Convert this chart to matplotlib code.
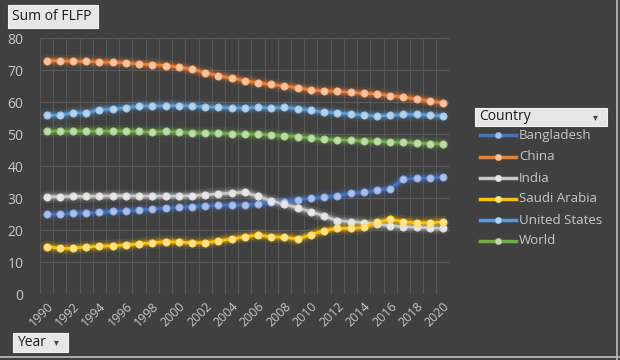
import matplotlib
matplotlib.use("Agg")
import matplotlib.pyplot as plt
import matplotlib.colors as mcolors
from matplotlib.patches import FancyBboxPatch
from matplotlib.lines import Line2D
import numpy as np

plt.rcParams['font.family'] = ['Open Sans', 'DejaVu Sans']

years = list(range(1990, 2021))
bangladesh = [24.9, 24.9, 25.2, 25.3, 25.5, 25.8, 26.0, 26.25, 26.6, 26.8, 27.1, 27.3, 27.5, 27.7, 27.8,
              27.9, 28.1, 28.6, 28.9, 29.5, 29.9, 30.3, 30.7, 31.5, 31.8, 32.4, 32.9, 35.9, 36.15, 36.35, 36.6]
china = [72.9, 72.9, 72.7, 72.7, 72.5, 72.4, 72.2, 71.9, 71.7, 71.4, 70.9, 70.2, 69.2, 68.2, 67.5,
         66.7, 66.0, 65.5, 64.9, 64.5, 63.75, 63.5, 63.3, 63.0, 62.7, 62.5, 62.0, 61.6, 60.9, 60.3, 59.7]
india = [30.4, 30.4, 30.5, 30.5, 30.6, 30.7, 30.7, 30.6, 30.6, 30.6, 30.6, 30.7, 31.0, 31.25, 31.6,
         31.8, 30.5, 29.2, 28.0, 27.0, 25.7, 24.4, 22.9, 22.6, 22.3, 21.8, 21.4, 21.0, 20.9, 20.7, 20.5]
saudi = [14.8, 14.3, 14.3, 14.7, 14.9, 15.1, 15.3, 15.7, 16.0, 16.35, 16.25, 16.0, 16.0, 16.6, 17.2,
         17.9, 18.4, 17.9, 17.7, 17.2, 18.5, 19.8, 20.5, 20.5, 20.8, 22.4, 23.3, 22.6, 22.2, 22.3, 22.5]
usa = [56.0, 55.8, 56.6, 56.6, 57.6, 57.8, 58.2, 58.75, 58.75, 58.85, 58.85, 58.75, 58.5, 58.3, 58.2,
       58.1, 58.3, 58.1, 58.3, 57.9, 57.4, 56.8, 56.7, 56.2, 55.9, 55.6, 55.8, 56.1, 56.1, 55.9, 55.6]
world = [50.9, 50.9, 50.9, 50.9, 50.9, 50.9, 50.9, 50.8, 50.6, 50.8, 50.6, 50.4, 50.3, 50.3, 50.1,
         50.0, 49.9, 49.7, 49.4, 49.2, 48.75, 48.3, 48.2, 48.0, 47.8, 47.7, 47.5, 47.4, 47.2, 47.0, 46.9]

series_names = ["Bangladesh", "China", "India", "Saudi Arabia", "United States", "World"]
series_values = [bangladesh, china, india, saudi, usa, world]
series_colors = ["#4472C4", "#ED7D31", "#C8C8C8", "#FFC000", "#5B9BD5", "#70AD47"]
yticks = [0, 10, 20, 30, 40, 50, 60, 70, 80]
xtick_labels = [str(y) for y in years[::2]]

BG = "#404040"
TXT = "#C8C8C8"

fig = plt.figure(figsize=(6.2, 3.6), dpi=100, facecolor=BG)
ax = fig.add_axes([40 / 620, 1 - 294 / 360, (449.6 - 40) / 620, (294 - 38) / 360])
ax.set_facecolor(BG)


def lighten(c, f):
    r, g, b = mcolors.to_rgb(c)
    return (r + (1 - r) * f, g + (1 - g) * f, b + (1 - b) * f)


for name, vals, col in zip(series_names, series_values, series_colors):
    for lw, a in [(9, 0.10), (6, 0.18), (4, 0.3)]:
        ax.plot(years, vals, color=col, lw=lw, alpha=a, solid_capstyle='round', zorder=2)
    ax.plot(years, vals, color=col, lw=2.0, zorder=3)
    ax.plot(years, vals, ls='none', marker='o', ms=5.2, mfc=lighten(col, 0.55),
            mec=lighten(col, 0.35), mew=0.6, zorder=4)

ax.set_ylim(0, 80)
ax.set_xlim(years[0] - 0.5, years[-1] + 0.5)
ax.set_yticks(yticks)
ax.set_yticklabels([str(v) for v in yticks], color=TXT, fontsize=10)
ax.set_xticks(years[::2])
ax.set_xticklabels(xtick_labels, rotation=45, ha='right', va='top', rotation_mode='anchor',
                   color=TXT, fontsize=9)
ax.set_xticks(np.arange(years[0] - 0.5, years[-1] + 1.0, 1.0), minor=True)
ax.tick_params(axis='both', which='both', length=0)
ax.tick_params(axis='y', pad=12)
ax.tick_params(axis='x', pad=4)
ax.grid(axis='y', which='major', color='#5A5A5A', lw=0.8, zorder=0)
ax.grid(axis='x', which='minor', color='#565656', lw=0.8, zorder=0)
for s in ax.spines.values():
    s.set_visible(False)


def button(x0, y0, x1, y1, text, arrow=False, fs=10):
    fx0, fx1 = x0 / 620, x1 / 620
    fy0, fy1 = 1 - y1 / 360, 1 - y0 / 360
    p = FancyBboxPatch((fx0, fy0), fx1 - fx0, fy1 - fy0, boxstyle="square,pad=0",
                       transform=fig.transFigure, facecolor="#E6E6E6", edgecolor="#F2F2F2",
                       lw=0.8, zorder=5)
    fig.patches.append(p)
    fig.text(fx0 + 4 / 620, (fy0 + fy1) / 2, text, color="#1A1A1A", fontsize=fs,
             ha='left', va='center', zorder=6)
    if arrow:
        fig.text(fx1 - 12 / 620, (fy0 + fy1) / 2, "▾", color="#444444", fontsize=7,
                 ha='center', va='center', family=['DejaVu Sans'], zorder=6)


button(8, 5, 98, 28, "Sum of FLFP")
button(13, 333, 68, 352, "Year", arrow=True)
button(475, 108, 607, 126, "Country", arrow=True)

# legend
leg_y = [135, 157, 178, 199, 220, 241]
for name, col, yy in zip(series_names, series_colors, leg_y):
    fy = 1 - yy / 360
    fig.add_artist(Line2D([480 / 620, 516 / 620], [fy, fy], transform=fig.transFigure,
                          color=col, lw=2.5, zorder=5))
    fig.add_artist(Line2D([498 / 620], [fy], transform=fig.transFigure, ls='none', marker='o',
                          ms=4.5, mfc=lighten(col, 0.55), mec=lighten(col, 0.35), mew=0.5, zorder=6))
    fig.text(519 / 620, fy, name, color=TXT, fontsize=9.5, ha='left', va='center')

# outer frame (right & bottom light edges)
fig.add_artist(Line2D([617 / 620, 617 / 620], [0, 1], transform=fig.transFigure, color="#BDBDBD", lw=1.2))
fig.add_artist(Line2D([0, 1], [3 / 360, 3 / 360], transform=fig.transFigure, color="#BDBDBD", lw=1.2))

fig.savefig("out.png", dpi=100, facecolor=BG)
